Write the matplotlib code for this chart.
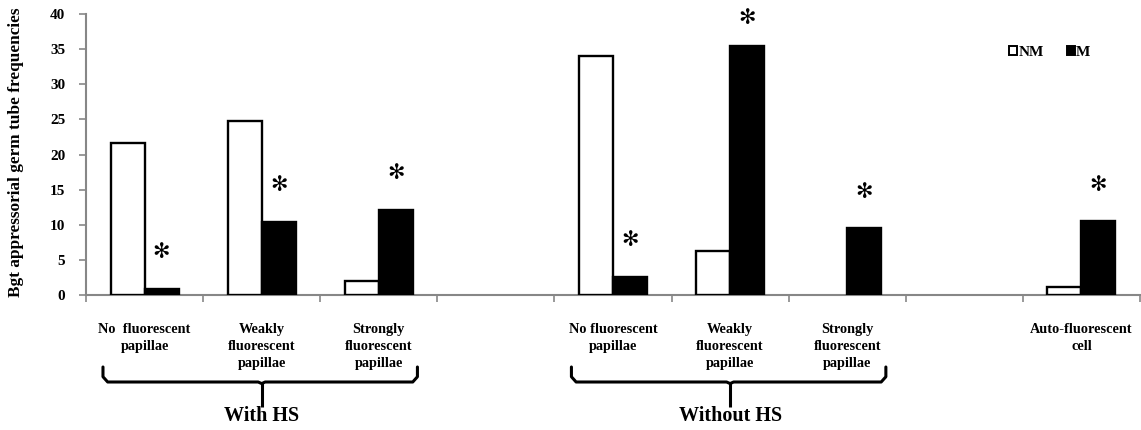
import matplotlib
matplotlib.use("Agg")
import matplotlib.pyplot as plt
import numpy as np
from matplotlib.patches import Patch
from matplotlib.path import Path
from matplotlib.patches import PathPatch

categories = ["No  fluorescent\npapillae", "Weakly\nfluorescent\npapillae",
              "Strongly\nfluorescent\npapillae", "",
              "No fluorescent\npapillae", "Weakly\nfluorescent\npapillae",
              "Strongly\nfluorescent\npapillae", "",
              "Auto-fluorescent\ncell"]
nm_values = [21.6, 24.7, 2.0, np.nan, 34.0, 6.2, np.nan, np.nan, 1.1]
m_values = [0.8, 10.4, 12.1, np.nan, 2.6, 35.5, 9.5, np.nan, 10.5]
star_y = [6.1, 15.6, 17.3, np.nan, 7.8, 39.4, 14.7, np.nan, 15.6]
groups = ["With HS", "Without HS"]
group_centers = [1.5, 5.5]
series_names = ["NM", "M"]
yticks = [0, 5, 10, 15, 20, 25, 30, 35, 40]
ylabel = "Bgt appressorial germ tube frequencies"

SERIF = "Liberation Serif"
GRAY = "#878787"

W, H = 1141, 430
fig = plt.figure(figsize=(W / 100, H / 100), dpi=100)
ax = fig.add_axes([86 / W, 1 - 295 / H, (1140 - 86) / W, (295 - 14) / H])

w = 0.29
x = np.arange(len(categories)) + 0.5
for xi, v in zip(x, nm_values):
    if not np.isnan(v):
        ax.bar(xi - w / 2, v, width=w, color="white", edgecolor="black", linewidth=1.7, zorder=3)
for xi, v in zip(x, m_values):
    if not np.isnan(v):
        ax.bar(xi + w / 2, v, width=w, color="black", edgecolor="black", linewidth=1.7, zorder=3)
for xi, s in zip(x, star_y):
    if not np.isnan(s):
        ax.text(xi + w / 2, s, "\u273b", ha="center", va="center", fontsize=15,
                family="DejaVu Sans", color="black", clip_on=False)

ax.set_xlim(0, len(categories))
ax.set_ylim(0, 40)
ax.set_yticks(yticks)
ax.set_yticklabels([str(t) for t in yticks], family=SERIF, fontweight="bold", fontsize=11)
ax.set_xticks(np.arange(len(categories) + 1))
ax.set_xticklabels([])
ax.set_xticks(x, minor=True)
ax.set_xticklabels(categories, minor=True, family=SERIF, fontweight="bold",
                   fontsize=10.3, linespacing=1.42)
ax.tick_params(axis="x", which="major", direction="out", length=5, width=1.2, color=GRAY)
ax.tick_params(axis="x", which="minor", length=0, pad=20)
ax.tick_params(axis="y", direction="out", length=5, width=1.2, color=GRAY, pad=10)

for s in ["top", "right"]:
    ax.spines[s].set_visible(False)
for s in ["left", "bottom"]:
    ax.spines[s].set_color(GRAY)
    ax.spines[s].set_linewidth(1.5)

fig.text(16 / W, 1 - 152 / H, ylabel, rotation=90, ha="center", va="center",
         family=SERIF, fontweight="bold", fontsize=12.4)

handles = [Patch(facecolor="white", edgecolor="black", linewidth=1.4, label=series_names[0]),
           Patch(facecolor="black", edgecolor="black", linewidth=1.4, label=series_names[1])]
ax.legend(handles=handles, loc="center left", bbox_to_anchor=(0.870, 0.862), ncol=2,
          frameon=False, handlelength=0.55, handleheight=0.55, handletextpad=0.05,
          columnspacing=1.5, borderaxespad=0,
          prop={"family": SERIF, "weight": "bold", "size": 11})

# braces
trans = ax.get_xaxis_transform()
def fy(py):
    # pixel y (from top) to axes-y fraction
    return (295 - py) / (295 - 14)

for gc, gname in zip(group_centers, groups):
    left, right = gc - 1.355, gc + 1.33
    top, mid, bot = fy(367), fy(382), fy(407)
    r = 0.04
    rv = (fy(367) - fy(382)) * 0.35
    verts = [(left, top), (left, mid + rv), (left + r, mid),
             (gc - 0.03, mid), (gc, mid - rv * 0.3),
             (gc + 0.03, mid), (right - r, mid), (right, mid + rv), (right, top)]
    codes = [Path.MOVETO] + [Path.LINETO] * 8
    ax.add_patch(PathPatch(Path(verts, codes), transform=trans, fill=False,
                           linewidth=2.2, edgecolor="black", clip_on=False,
                           joinstyle="round", capstyle="round"))
    ax.plot([gc, gc], [mid, bot], transform=trans, color="black", linewidth=2.2,
            clip_on=False, solid_capstyle="butt")
    ax.text(gc, fy(416), gname, transform=trans, ha="center", va="center",
            family=SERIF, fontweight="bold", fontsize=14.5)

fig.savefig("out.png", dpi=100)
